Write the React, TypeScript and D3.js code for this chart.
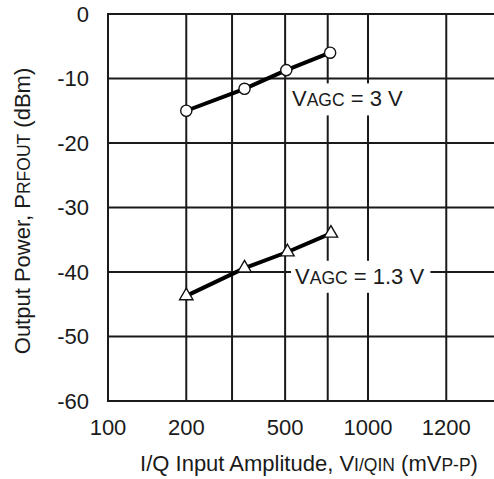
import React, { useEffect, useRef } from "react";
import * as d3 from "d3";

const W = 494;
const H = 479;

// Axis ticks
const xTickValues = [100, 200, 300, 480, 700, 1000, 2000];
const xTickLabels = ["100", "200", "", "500", "", "1000", "1200"];
const yTickValues = [0, -10, -20, -30, -40, -50, -60];

// Output power vs. I/Q input amplitude
const amplitudeHigh = [200, 335, 485, 715];
const powerHigh = [-15.0, -11.6, -8.7, -6.0];
const amplitudeLow = [200, 335, 490, 720];
const powerLow = [-43.7, -39.4, -36.9, -34.0];

const FONT = "'Liberation Sans', Arial, Helvetica, sans-serif";
const BIG = 22;
const SMALL = 17.5;
const INK = "#1a1a1a";

export default function App() {
  const ref = useRef<SVGSVGElement | null>(null);

  useEffect(() => {
    const svg = d3.select(ref.current);
    svg.selectAll("*").remove();

    const x = d3.scaleLog().domain([100, 1000]).range([108, 368]);
    const y = d3.scaleLinear().domain([-60, 0]).range([401, 14]);
    const xLeft = x(100);
    const xRight = W + 4;

    const grid = svg.append("g").attr("stroke", INK).attr("stroke-width", 2);

    // horizontal grid lines
    grid
      .selectAll("line.h")
      .data(yTickValues)
      .join("line")
      .attr("class", "h")
      .attr("x1", xLeft - 1)
      .attr("x2", xRight)
      .attr("y1", (d) => y(d))
      .attr("y2", (d) => y(d));

    // vertical grid lines (first one is the left frame)
    grid
      .selectAll("line.v")
      .data(xTickValues)
      .join("line")
      .attr("class", "v")
      .attr("x1", (d) => x(d))
      .attr("x2", (d) => x(d))
      .attr("y1", y(0))
      .attr("y2", y(-60));

    // y tick labels
    svg
      .append("g")
      .selectAll("text")
      .data(yTickValues)
      .join("text")
      .attr("x", 89)
      .attr("y", (d) => y(d))
      .attr("dy", "0.36em")
      .attr("text-anchor", "end")
      .attr("font-family", FONT)
      .attr("font-size", BIG)
      .attr("fill", INK)
      .text((d) => String(d));

    // x tick labels
    svg
      .append("g")
      .selectAll("text")
      .data(xTickValues.map((v, i) => ({ v, label: xTickLabels[i] })))
      .join("text")
      .attr("x", (d) => x(d.v))
      .attr("y", 435)
      .attr("text-anchor", "middle")
      .attr("font-family", FONT)
      .attr("font-size", BIG)
      .attr("fill", INK)
      .text((d) => d.label);

    // axis titles
    const xt = svg
      .append("text")
      .attr("x", 309)
      .attr("y", 471)
      .attr("text-anchor", "middle")
      .attr("font-family", FONT)
      .attr("font-size", BIG)
      .attr("fill", INK);
    xt.append("tspan").text("I/Q Input Amplitude, V");
    xt.append("tspan").attr("font-size", SMALL).text("I/QIN");
    xt.append("tspan").text(" (mV");
    xt.append("tspan").attr("font-size", SMALL).text("P-P");
    xt.append("tspan").text(")");

    const yt = svg
      .append("text")
      .attr("transform", "translate(30,211) rotate(-90)")
      .attr("text-anchor", "middle")
      .attr("font-family", FONT)
      .attr("font-size", BIG)
      .attr("fill", INK);
    yt.append("tspan").text("Output Power, P");
    yt.append("tspan").attr("font-size", SMALL).text("RFOUT");
    yt.append("tspan").text(" (dBm)");

    // curve labels on white boxes, knocking out the grid behind them
    const labels = [
      { ax: 510, ay: -13.1, value: "3 V" },
      { ax: 524, ay: -40.6, value: "1.3 V" },
    ];
    const boxLayer = svg.append("g");
    const dataLayer = svg.append("g");
    const textLayer = svg.append("g");

    labels.forEach((l) => {
      const t = textLayer
        .append("text")
        .attr("x", x(l.ax))
        .attr("y", y(l.ay))
        .attr("dy", "0.36em")
        .attr("font-family", FONT)
        .attr("font-size", BIG)
        .attr("fill", INK);
      t.append("tspan").text("V");
      t.append("tspan").attr("font-size", SMALL).text("AGC");
      t.append("tspan").text(" = " + l.value);
      const bb = (t.node() as SVGTextElement).getBBox();
      boxLayer
        .append("rect")
        .attr("x", bb.x - 4)
        .attr("y", bb.y - 3)
        .attr("width", bb.width + 10)
        .attr("height", bb.height + 7)
        .attr("fill", "#fff");
    });

    const line = d3
      .line<[number, number]>()
      .x((d) => x(d[0]))
      .y((d) => y(d[1]));

    const high: [number, number][] = amplitudeHigh.map((a, i) => [a, powerHigh[i]]);
    const low: [number, number][] = amplitudeLow.map((a, i) => [a, powerLow[i]]);

    [high, low].forEach((pts) => {
      dataLayer
        .append("path")
        .attr("d", line(pts))
        .attr("fill", "none")
        .attr("stroke", "#000")
        .attr("stroke-width", 4);
    });

    dataLayer
      .append("g")
      .selectAll("circle")
      .data(high)
      .join("circle")
      .attr("cx", (d) => x(d[0]))
      .attr("cy", (d) => y(d[1]))
      .attr("r", 5.6)
      .attr("fill", "#fff")
      .attr("stroke", "#111")
      .attr("stroke-width", 1.4);

    const tri = d3.symbol().type(d3.symbolTriangle).size(78);
    dataLayer
      .append("g")
      .selectAll("path")
      .data(low)
      .join("path")
      .attr("d", tri() as string)
      .attr("transform", (d) => `translate(${x(d[0])},${y(d[1])})`)
      .attr("fill", "#fff")
      .attr("stroke", "#111")
      .attr("stroke-width", 1.4);
  }, []);

  return (
    <svg
      ref={ref}
      width={W}
      height={H}
      style={{ position: "absolute", left: 0, top: 0, background: "#fff", display: "block" }}
    />
  );
}
